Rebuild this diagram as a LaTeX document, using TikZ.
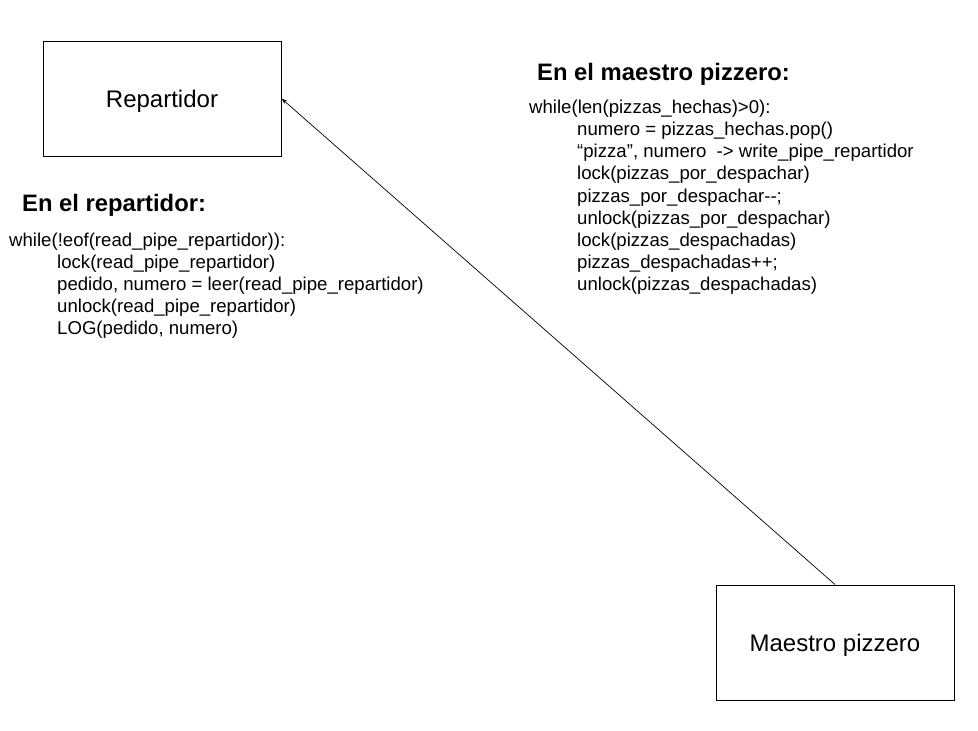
\documentclass[tikz,border=0pt]{standalone}
\usepackage{fontspec}
\setmainfont{Liberation Sans}
\usetikzlibrary{arrows.meta}

\begin{document}
\begin{tikzpicture}[x=1pt,y=-1pt,
  main node/.style={rectangle,draw,line width=1pt,minimum width=238pt,minimum height=115pt,text depth=0pt,font=\fontsize{24}{28}\selectfont},
  title node/.style={anchor=base west,inner sep=0pt,font=\fontsize{23.8}{28}\selectfont\bfseries},
  code node/.style={anchor=north west,inner sep=0pt,align=left,font=\fontsize{18.6}{22.1}\selectfont}]
  \useasboundingbox (0,0) rectangle (978,731);
  %nodes
  \node[main node] (1) at (162,98.5) {Repartidor};
  \node[main node] (2) at (835,642.5) {Maestro pizzero};
  \node[title node] (3) at (22,211.5) {En el repartidor:};
  \node[title node] (4) at (537,80.5) {En el maestro pizzero:};
  \node[code node] (5) at (9,232.5) {while(!eof(read\_pipe\_repartidor)):\\
    \hspace*{48pt}lock(read\_pipe\_repartidor)\\
    \hspace*{48pt}pedido, numero = leer(read\_pipe\_repartidor)\\
    \hspace*{48pt}unlock(read\_pipe\_repartidor)\\
    \hspace*{48pt}LOG(pedido, numero)};
  \node[code node] (6) at (529,100) {while(len(pizzas\_hechas)>0):\\
    \hspace*{48pt}numero = pizzas\_hechas.pop()\\
    \hspace*{48pt}“pizza”, numero~ -> write\_pipe\_repartidor\\
    \hspace*{48pt}lock(pizzas\_por\_despachar)\\
    \hspace*{48pt}pizzas\_por\_despachar-{}-;\\
    \hspace*{48pt}unlock(pizzas\_por\_despachar)\\
    \hspace*{48pt}lock(pizzas\_despachadas)\\
    \hspace*{48pt}pizzas\_despachadas++;\\
    \hspace*{48pt}unlock(pizzas\_despachadas)};
  %Edges
  \path (2.north) edge [-{Stealth[length=6pt,width=4pt]},line width=0.7pt] (1.east);
\end{tikzpicture}
\end{document}
